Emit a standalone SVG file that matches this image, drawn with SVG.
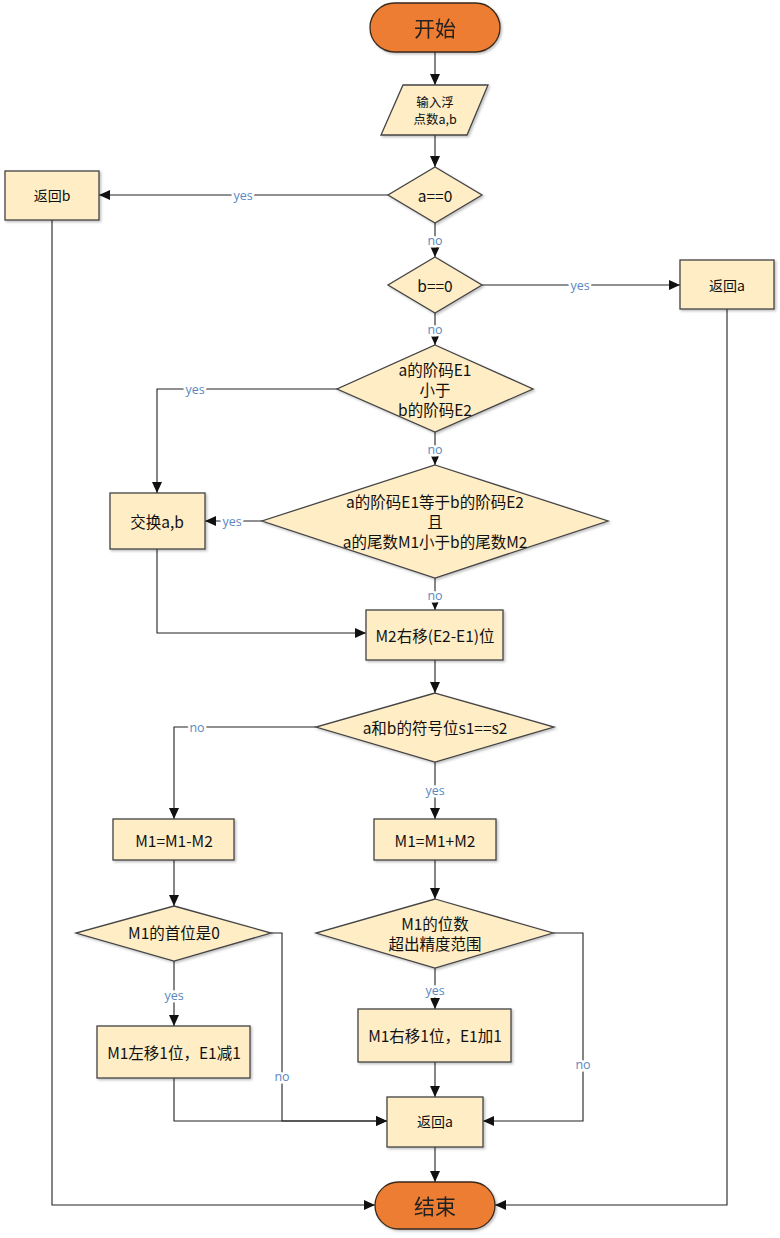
<svg xmlns="http://www.w3.org/2000/svg" width="780" height="1238" viewBox="0 0 780 1238">
<style>
.node{fill:#FFEDC6;stroke:#444;stroke-width:1.3}
.term{fill:#ED7D31;stroke:#3a2a1c;stroke-width:1.3}
.t{font-family:"Microsoft YaHei","Noto Sans CJK SC","Noto Sans",sans-serif;font-size:15.5px;fill:#111;text-anchor:middle;dominant-baseline:central}
.ts{font-size:14px}
.tin{font-size:12.5px}
.tt{font-size:21px;fill:#222}
.e{fill:none;stroke:#222;stroke-width:1.1}
.lbl{font-family:"Segoe UI","Open Sans","Noto Sans",sans-serif;font-size:12.5px;fill:#5B87C0;text-anchor:middle;dominant-baseline:central;paint-order:stroke;stroke:#fff;stroke-width:5px}
</style>
<defs>
<marker id="arr" markerUnits="userSpaceOnUse" markerWidth="12" markerHeight="10" refX="11" refY="5" orient="auto">
<path d="M0,0 L11,5 L0,10 Z" fill="#111"/>
</marker>
<filter id="sh" x="-10%" y="-10%" width="130%" height="130%">
<feDropShadow dx="1.5" dy="1.5" stdDeviation="1" flood-color="#000" flood-opacity="0.25"/>
</filter>
</defs>
<rect width="780" height="1238" fill="#fff"/>
<g id="connectors">
<path class="e" d="M435,52 V85" marker-end="url(#arr)"/>
<path class="e" d="M435,135 V167" marker-end="url(#arr)"/>
<path class="e" d="M388,195 H99" marker-end="url(#arr)"/>
<path class="e" d="M435,223 V257" marker-end="url(#arr)"/>
<path class="e" d="M482,285 H680" marker-end="url(#arr)"/>
<path class="e" d="M435,313 V345" marker-end="url(#arr)"/>
<path class="e" d="M337,389 H157 V493" marker-end="url(#arr)"/>
<path class="e" d="M435,432 V465" marker-end="url(#arr)"/>
<path class="e" d="M262,521 H205" marker-end="url(#arr)"/>
<path class="e" d="M435,578 V610" marker-end="url(#arr)"/>
<path class="e" d="M157,549 V633 H366" marker-end="url(#arr)"/>
<path class="e" d="M435,660 V693" marker-end="url(#arr)"/>
<path class="e" d="M316,727 H174 V819" marker-end="url(#arr)"/>
<path class="e" d="M435,762 V819" marker-end="url(#arr)"/>
<path class="e" d="M174,860 V906" marker-end="url(#arr)"/>
<path class="e" d="M435,860 V899" marker-end="url(#arr)"/>
<path class="e" d="M174,961 V1026" marker-end="url(#arr)"/>
<path class="e" d="M271,933 H282 V1121 H387" marker-end="url(#arr)"/>
<path class="e" d="M174,1078 V1121 H387" marker-end="url(#arr)"/>
<path class="e" d="M435,968 V1009" marker-end="url(#arr)"/>
<path class="e" d="M553,933 H583 V1121 H483" marker-end="url(#arr)"/>
<path class="e" d="M435,1062 V1097" marker-end="url(#arr)"/>
<path class="e" d="M435,1147 V1182" marker-end="url(#arr)"/>
<path class="e" d="M52,220 V1205 H375" marker-end="url(#arr)"/>
<path class="e" d="M727,309 V1205 H495" marker-end="url(#arr)"/>
<text class="lbl" x="243" y="195">yes</text>
<text class="lbl" x="435" y="240">no</text>
<text class="lbl" x="580" y="285">yes</text>
<text class="lbl" x="435" y="329">no</text>
<text class="lbl" x="195" y="389">yes</text>
<text class="lbl" x="435" y="449">no</text>
<text class="lbl" x="232" y="521">yes</text>
<text class="lbl" x="435" y="595">no</text>
<text class="lbl" x="197" y="727">no</text>
<text class="lbl" x="435" y="790">yes</text>
<text class="lbl" x="174" y="995">yes</text>
<text class="lbl" x="282" y="1076">no</text>
<text class="lbl" x="435" y="990">yes</text>
<text class="lbl" x="583" y="1064">no</text>
</g>
<g id="start" filter="url(#sh)">
<rect class="term" x="370" y="3" width="130" height="49" rx="24.5"/>
<text class="t tt" x="435" y="27">开始</text>
</g>
<g id="input">
<polygon class="node" filter="url(#sh)" points="403,85 488,85 467,135 381,135"/>
<text class="t tin" x="435" y="101">输入浮</text>
<text class="t tin" x="435" y="118">点数a,b</text>
</g>
<g id="a_zero">
<polygon class="node" filter="url(#sh)" points="435,167 482,195 435,223 388,195"/>
<text class="t" x="435" y="195">a==0</text>
</g>
<g id="return_b">
<rect class="node" filter="url(#sh)" x="5" y="171" width="94" height="49"/>
<text class="t ts" x="52" y="195">返回b</text>
</g>
<g id="b_zero">
<polygon class="node" filter="url(#sh)" points="435,257 482,285 435,313 388,285"/>
<text class="t" x="435" y="285">b==0</text>
</g>
<g id="return_a_top">
<rect class="node" filter="url(#sh)" x="680" y="260" width="94" height="49"/>
<text class="t ts" x="727" y="285">返回a</text>
</g>
<g id="e1_lt_e2">
<polygon class="node" filter="url(#sh)" points="435,345 533,389 435,432 337,389"/>
<text class="t" x="435" y="369">a的阶码E1</text>
<text class="t" x="435" y="389">小于</text>
<text class="t" x="435" y="409">b的阶码E2</text>
</g>
<g id="e_eq_m_lt">
<polygon class="node" filter="url(#sh)" points="435,465 608,521 435,578 262,521"/>
<text class="t" x="435" y="501">a的阶码E1等于b的阶码E2</text>
<text class="t" x="435" y="521">且</text>
<text class="t" x="435" y="541">a的尾数M1小于b的尾数M2</text>
</g>
<g id="swap">
<rect class="node" filter="url(#sh)" x="110" y="493" width="95" height="56"/>
<text class="t" x="157" y="521">交换a,b</text>
</g>
<g id="shift_m2">
<rect class="node" filter="url(#sh)" x="366" y="610" width="137" height="50"/>
<text class="t" x="435" y="635">M2右移(E2-E1)位</text>
</g>
<g id="sign_eq">
<polygon class="node" filter="url(#sh)" points="435,693 554,727 435,762 316,727"/>
<text class="t" x="435" y="727">a和b的符号位s1==s2</text>
</g>
<g id="sub">
<rect class="node" filter="url(#sh)" x="113" y="819" width="121" height="41"/>
<text class="t" x="174" y="840">M1=M1-M2</text>
</g>
<g id="add">
<rect class="node" filter="url(#sh)" x="374" y="819" width="122" height="41"/>
<text class="t" x="435" y="840">M1=M1+M2</text>
</g>
<g id="lead_zero">
<polygon class="node" filter="url(#sh)" points="174,906 271,933 174,961 76,933"/>
<text class="t" x="174" y="932">M1的首位是0</text>
</g>
<g id="overflow">
<polygon class="node" filter="url(#sh)" points="435,899 553,933 435,968 316,933"/>
<text class="t" x="435" y="923">M1的位数</text>
<text class="t" x="435" y="943">超出精度范围</text>
</g>
<g id="shift_left">
<rect class="node" filter="url(#sh)" x="97" y="1026" width="153" height="52"/>
<text class="t" x="174" y="1052">M1左移1位，E1减1</text>
</g>
<g id="shift_right">
<rect class="node" filter="url(#sh)" x="358" y="1009" width="153" height="53"/>
<text class="t" x="435" y="1035">M1右移1位，E1加1</text>
</g>
<g id="return_a">
<rect class="node" filter="url(#sh)" x="387" y="1097" width="96" height="50"/>
<text class="t ts" x="435" y="1121">返回a</text>
</g>
<g id="end" filter="url(#sh)">
<rect class="term" x="375" y="1182" width="120" height="47" rx="23.5"/>
<text class="t tt" x="435" y="1205">结束</text>
</g>
</svg>
